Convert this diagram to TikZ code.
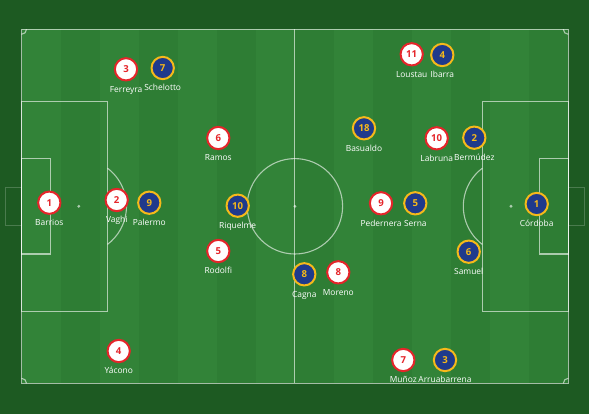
\documentclass[tikz,border=0pt]{standalone}
\usepackage{fontspec}
\setmainfont{Open Sans}
\usepackage{xcolor}
\usetikzlibrary{positioning}

\definecolor{bggreen}{HTML}{1D5A22}
\definecolor{stripeA}{HTML}{328338}
\definecolor{stripeB}{HTML}{2E7D34}
\definecolor{redline}{HTML}{E5252A}
\definecolor{navy}{HTML}{1F3A8C}
\definecolor{gold}{HTML}{F6B91A}

\begin{document}
\begin{tikzpicture}[x=1pt,y=-1pt]
\tikzstyle{fieldline}=[draw=white, draw opacity=0.6, line width=1.1pt]
\tikzstyle{red}=[circle, minimum size=22.3pt, inner sep=0pt, line width=2pt, draw=redline, fill=white, text=redline, font=\fontsize{9.6}{10}\selectfont\bfseries]
\tikzstyle{blue}=[circle, minimum size=22.3pt, inner sep=0pt, line width=2pt, draw=gold, fill=navy, text=gold, font=\fontsize{9.6}{10}\selectfont\bfseries]
\tikzstyle{lbl}=[inner sep=0pt, text height=6.2pt, text depth=1.5pt, text=white, font=\fontsize{8.4}{9}\selectfont]
% background and stripes
\fill[bggreen] (0,0) rectangle (589,414);
\foreach \i in {0,...,13}
   {
    \pgfmathsetmacro{\xa}{21.5+\i*39.057}
    \pgfmathsetmacro{\xb}{21.5+(\i+1)*39.057}
    \ifodd\i \fill[stripeB] (\xa,29.3) rectangle (\xb,383.3);
    \else \fill[stripeA] (\xa,29.3) rectangle (\xb,383.3); \fi
   }
% pitch markings
\path[fieldline] (21.5,29.3) rectangle (568.3,383.3);
\path[fieldline] (294.9,29.3) -- (294.9,383.3);
\path[fieldline] (294.9,206.3) circle[radius=47.7];
\fill[white, opacity=0.6] (294.9,206.3) circle[radius=1.6];
\path[fieldline] (21.5,101.3) rectangle (107.5,311.3);
\path[fieldline] (21.5,158.6) rectangle (50.1,254.0);
\path[fieldline] (107.5,168.2) arc[start angle=-53, end angle=53, radius=47.7];
\fill[white, opacity=0.6] (78.8,206.3) circle[radius=1.6];
\path[fieldline] (482.3,101.3) rectangle (568.3,311.3);
\path[fieldline] (539.7,158.6) rectangle (568.3,254.0);
\path[fieldline] (482.3,244.4) arc[start angle=127, end angle=233, radius=47.7];
\fill[white, opacity=0.6] (511.0,206.3) circle[radius=1.6];
\path[fieldline, draw opacity=0.2] (21.5,187.3) rectangle (5.5,225.3);
\path[fieldline, draw opacity=0.2] (568.3,187.3) rectangle (584.3,225.3);
\path[fieldline] (26.5,29.3) arc[start angle=0, end angle=90, radius=5];
\path[fieldline] (568.3,34.3) arc[start angle=90, end angle=180, radius=5];
\path[fieldline] (563.3,383.3) arc[start angle=180, end angle=270, radius=5];
\path[fieldline] (21.5,378.3) arc[start angle=270, end angle=360, radius=5];
% players
\foreach \n/\x/\y/\name in {1/49.3/202.7/Barrios, 2/116.7/200.0/Vaghi, 3/126.0/69.3/Ferreyra,
    4/118.7/351.0/Yácono, 5/218.3/251.0/Rodolfi, 6/218.3/138.0/Ramos, 7/403.3/360.0/Muñoz,
    8/338.3/272.3/Moreno, 9/381.0/203.3/Pedernera, 10/436.7/138.3/Labruna, 11/411.7/54.3/Loustau}
   {
    \node[red] (r\n) at (\x,\y) {\n};
    \node[lbl, below=4.2pt of r\n] (rl\n) {\name};
   }
\foreach \n/\x/\y/\name in {1/536.7/204.0/Córdoba, 2/474.3/137.7/Bermúdez, 3/445.0/360.0/Arruabarrena,
    4/442.3/55.0/Ibarra, 5/415.3/203.3/Serna, 6/468.7/251.7/Samuel, 7/162.7/68.0/Schelotto,
    8/304.3/274.3/Cagna, 9/149.3/202.7/Palermo, 10/237.7/205.7/Riquelme, 18/364.0/128.3/Basualdo}
   {
    \node[blue] (b\n) at (\x,\y) {\n};
    \node[lbl, below=4.2pt of b\n] (bl\n) {\name};
   }
\end{tikzpicture}
\end{document}
